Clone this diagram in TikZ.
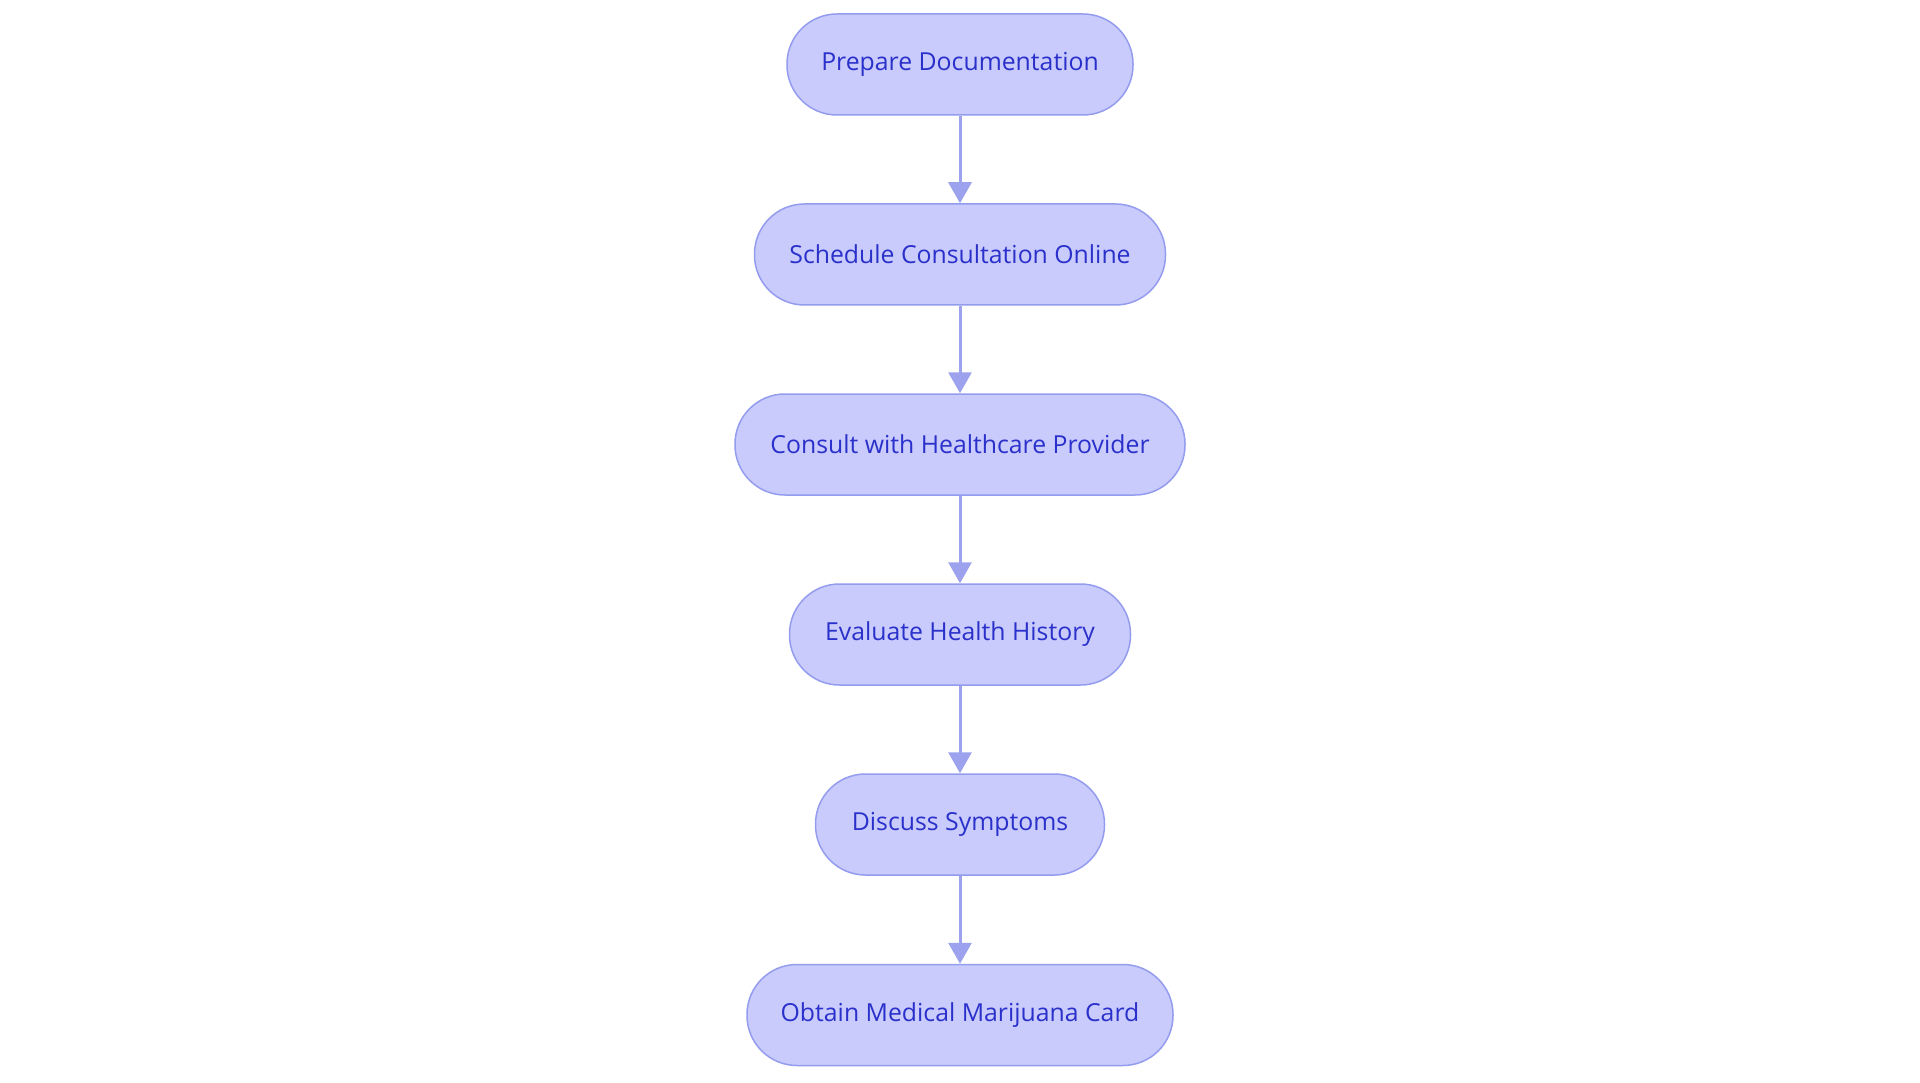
\documentclass[tikz,border=0pt]{standalone}
\usepackage{fontspec}
\setmainfont{Open Sans}
\usetikzlibrary{arrows.meta}
\definecolor{boxfill}{HTML}{C9CBFC}
\definecolor{boxline}{HTML}{949CEE}
\definecolor{boxtext}{HTML}{2A30CA}
\definecolor{arrowc}{HTML}{9DA2EE}
\tikzset{
  stepbox/.style={draw=boxline, fill=boxfill, line width=1.5pt, rounded corners=50pt,
    minimum height=101pt, inner sep=0pt, text=boxtext, font=\fontsize{24.8}{29}\selectfont},
  flow/.style={draw=arrowc, line width=3pt, -{Triangle[width=23pt,length=21pt]}}
}
\begin{document}
\begin{tikzpicture}[x=1pt,y=-1pt]
\useasboundingbox (0,0) rectangle (1920,1083);
\node[stepbox, minimum width=346pt] (a) at (960,64.5) {Prepare Documentation};
\node[stepbox, minimum width=411pt] (b) at (960,254.5) {Schedule Consultation Online};
\node[stepbox, minimum width=450pt] (c) at (960,444.5) {Consult with Healthcare Provider};
\node[stepbox, minimum width=341pt] (d) at (960,634.5) {Evaluate Health History};
\node[stepbox, minimum width=289pt] (e) at (960,824.5) {Discuss Symptoms};
\node[stepbox, minimum width=426pt] (f) at (960,1015) {Obtain Medical Marijuana Card};
\draw[flow] (a) -- (b);
\draw[flow] (b) -- (c);
\draw[flow] (c) -- (d);
\draw[flow] (d) -- (e);
\draw[flow] (e) -- (f);
\end{tikzpicture}
\end{document}
